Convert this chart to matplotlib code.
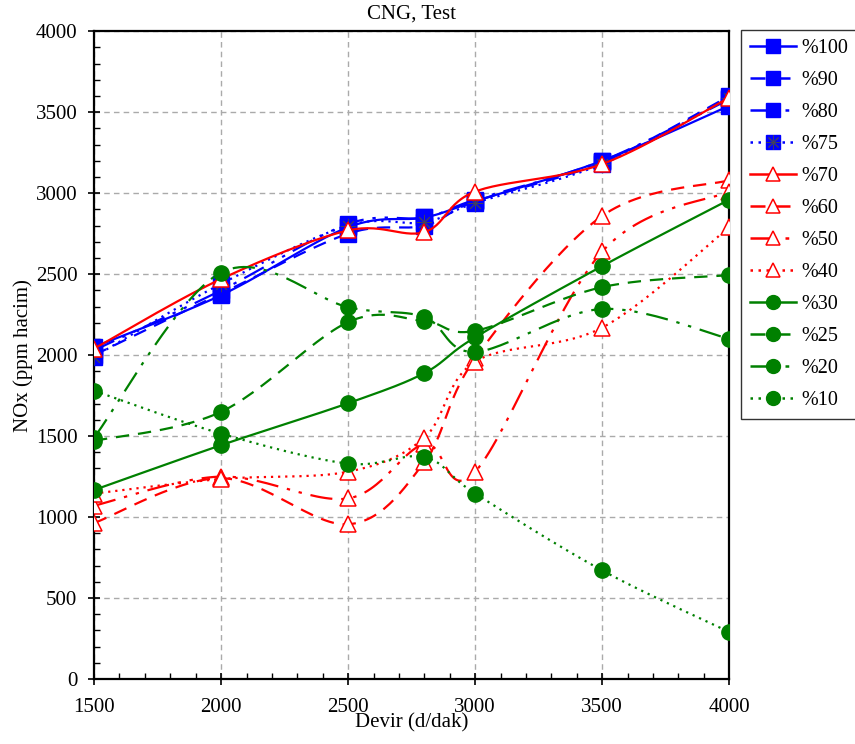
import numpy as np
import matplotlib
matplotlib.use("Agg")
import matplotlib.pyplot as plt
from matplotlib.ticker import MultipleLocator

plt.rcParams['font.family'] = ['Liberation Serif', 'DejaVu Serif']

devir = [1500, 2000, 2500, 2800, 3000, 3500, 4000]

nox_100 = [2050, 2370, 2790, 2850, 2950, 3200, 3540]
nox_90 = [2000, 2380, 2750, 2800, 2950, 3190, 3600]
nox_80 = [2030, 2400, 2810, 2850, 2960, 3200, 3580]
nox_75 = [1990, 2440, 2800, 2820, 2940, 3180, 3590]
nox_70 = [2040, 2470, 2770, 2760, 3010, 3180, 3590]
nox_60 = [963, 1240, 955, 1340, 1980, 2860, 3080]
nox_50 = [1070, 1250, 1115, 1450, 1280, 2640, 3010]
nox_40 = [1145, 1235, 1280, 1490, 1960, 2170, 2790]
nox_30 = [1167, 1444, 1703, 1889, 2110, 2550, 2960]
nox_25 = [1470, 1650, 2204, 2210, 2150, 2420, 2494]
nox_20 = [1490, 2510, 2296, 2235, 2020, 2285, 2100]
nox_10 = [1780, 1515, 1330, 1370, 1145, 670, 290]

labels = ['%100', '%90', '%80', '%75', '%70', '%60', '%50', '%40',
          '%30', '%25', '%20', '%10']
series = [nox_100, nox_90, nox_80, nox_75, nox_70, nox_60, nox_50, nox_40,
          nox_30, nox_25, nox_20, nox_10]

dash_dot2 = (0, (10, 4, 1.5, 4, 1.5, 4))
styles = ['-', (0, (6, 4)), dash_dot2, (0, (1, 2.2))] * 3
colors = ['blue'] * 4 + ['red'] * 4 + ['green'] * 4


def smooth(x, y, n=30):
    # bezier smoothing between the points, only for drawing the curve
    x = np.asarray(x, float)
    y = np.asarray(y, float)
    px = np.concatenate([[x[0]], x, [x[-1]]])
    py = np.concatenate([[y[0]], y, [y[-1]]])
    xs, ys = [], []
    t = np.linspace(0, 1, n)
    for i in range(1, len(px) - 2):
        p0, p1, p2, p3 = [np.array([px[j], py[j]]) for j in (i - 1, i, i + 1, i + 2)]
        c1 = p1 + (p2 - p0) / 6
        c2 = p2 - (p3 - p1) / 6
        pts = ((1 - t) ** 3)[:, None] * p1 + (3 * (1 - t) ** 2 * t)[:, None] * c1 \
            + (3 * (1 - t) * t ** 2)[:, None] * c2 + (t ** 3)[:, None] * p2
        xs.append(pts[:, 0])
        ys.append(pts[:, 1])
    return np.concatenate(xs), np.concatenate(ys)


fig = plt.figure(figsize=(8.55, 7.44), dpi=100)
ax = fig.add_axes([0.110, 0.0874, 0.743, 0.8706])

handles = []
for i, (lab, vals) in enumerate(zip(labels, series)):
    c = colors[i]
    sx, sy = smooth(devir, vals)
    ax.plot(sx, sy, color=c, ls=styles[i], lw=1.6, zorder=3 + i)
    if c == 'blue':
        mk = dict(marker='s', ms=11, mfc='blue', mec='blue')
    elif c == 'red':
        mk = dict(marker='^', ms=11, mfc='white', mec='red', mew=1.1)
    else:
        mk = dict(marker='o', ms=11, mfc='green', mec='green')
    ax.plot(devir, vals, ls='none', zorder=3 + i, **mk)
    h, = ax.plot([], [], color=c, ls=styles[i], lw=1.8, **dict(mk, ms=10))
    if lab == '%75':
        ax.plot(devir, vals, ls='none', marker=(8, 2, 0), ms=11, mec='#404060',
                mew=0.7, zorder=3 + i)
        star, = ax.plot([], [], ls='none', marker=(8, 2, 0), ms=10, mec='#404060', mew=0.7)
        h = (h, star)
    handles.append(h)

ax.set_xlim(1500, 4000)
ax.set_ylim(0, 4000)
ax.xaxis.set_major_locator(MultipleLocator(500))
ax.xaxis.set_minor_locator(MultipleLocator(100))
ax.yaxis.set_major_locator(MultipleLocator(500))
ax.yaxis.set_minor_locator(MultipleLocator(100))
ax.tick_params(which='major', direction='inout', length=8, width=1.2, labelsize=15)
ax.tick_params(axis='x', which='major', pad=10)
ax.tick_params(axis='y', which='major', pad=8)
ax.tick_params(which='minor', direction='in', length=4, width=1)
ax.grid(True, which='major', ls=(0, (4, 3)), color='#aaaaaa', lw=1)
for s in ax.spines.values():
    s.set_linewidth(1.6)

ax.set_title('CNG, Test', fontsize=15, pad=9)
ax.set_xlabel('Devir (d/dak)', fontsize=15, labelpad=-3)
ax.set_ylabel('NOx (ppm hacim)', fontsize=15, labelpad=2)

fig.legend(handles, labels, loc='upper left', bbox_to_anchor=(0.8667, 0.960),
           borderaxespad=0, fontsize=14.5, handlelength=2.3, labelspacing=0.64,
           borderpad=0.45, handletextpad=0.25, frameon=True, fancybox=False,
           edgecolor='#333333', framealpha=1)

fig.savefig('out.png', dpi=100)
